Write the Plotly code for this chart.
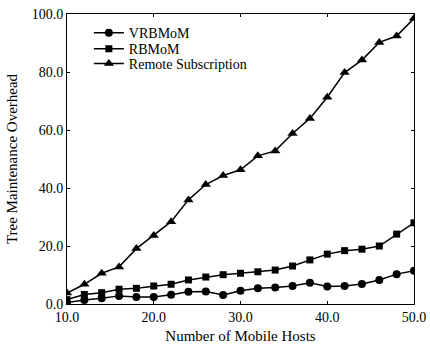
import plotly.graph_objects as go

hosts = [10, 12, 14, 16, 18, 20, 22, 24, 26, 28, 30, 32, 34, 36, 38, 40, 42, 44, 46, 48, 50]
vrbmom = [0.5, 1.4, 2.0, 2.8, 2.4, 2.4, 3.2, 4.2, 4.3, 3.1, 4.6, 5.4, 5.7, 6.2, 7.3, 6.0, 6.2, 6.9, 8.3, 10.3, 11.5]
rbmom = [1.5, 3.3, 3.9, 5.1, 5.4, 6.2, 6.8, 8.3, 9.3, 10.1, 10.6, 11.1, 11.7, 13.1, 15.2, 17.2, 18.4, 18.9, 20.0, 24.1, 28.0]
remote = [3.8, 6.8, 10.6, 12.8, 19.1, 23.6, 28.4, 35.9, 41.2, 44.3, 46.3, 51.1, 52.8, 58.8, 64.0, 71.3, 79.8, 84.1, 90.2, 92.4, 98.5]

names = ["VRBMoM", "RBMoM", "Remote Subscription"]
symbols = ["circle", "square", "triangle-up"]
sizes = [8, 7, 9]
legend_ids = ["legend", "legend2", "legend3"]
legend_y = [0.934, 0.879, 0.828]

font = "Liberation Serif"
fig = go.Figure()
for name, ys, sym, sz, lg in zip(names, [vrbmom, rbmom, remote], symbols, sizes, legend_ids):
    fig.add_trace(go.Scatter(
        x=hosts, y=ys, name=name, mode="lines+markers", legend=lg,
        line=dict(color="black", width=1.5),
        marker=dict(symbol=sym, size=sz, color="black"),
    ))

axis_common = dict(
    automargin=False,
    showline=True, linecolor="black", linewidth=1, mirror="ticks",
    ticks="inside", ticklen=3, tickcolor="black", showgrid=False, zeroline=False,
    tickformat=".1f", tickfont=dict(family=font, size=14, color="black"),
    ticklabeloverflow="allow",
)
fig.update_xaxes(range=[10, 50], dtick=10, tick0=10,
                 title=dict(text="Number of Mobile Hosts", font=dict(family=font, size=15, color="black"), standoff=6),
                 **axis_common)
fig.update_yaxes(range=[0, 100], dtick=20, tick0=0,
                 title=dict(text="Tree Maintenance Overhead", font=dict(family=font, size=15, color="black"), standoff=10),
                 **axis_common)

legend_layout = {}
for lg, ly in zip(legend_ids, legend_y):
    legend_layout[lg] = dict(x=0.063, y=ly, xanchor="left", yanchor="middle",
                             bgcolor="rgba(0,0,0,0)", font=dict(family=font, size=14, color="black"),
                             itemwidth=30)

fig.update_layout(
    template="none",
    width=430, height=351,
    margin=dict(l=67, r=16, t=14, b=47, autoexpand=False),
    plot_bgcolor="white", paper_bgcolor="white",
    font=dict(family=font, size=14, color="black"),
    showlegend=True,
    **legend_layout,
)
fig.write_html("out.html", config={"displayModeBar": False},
               post_script="document.body.style.margin='0';")
